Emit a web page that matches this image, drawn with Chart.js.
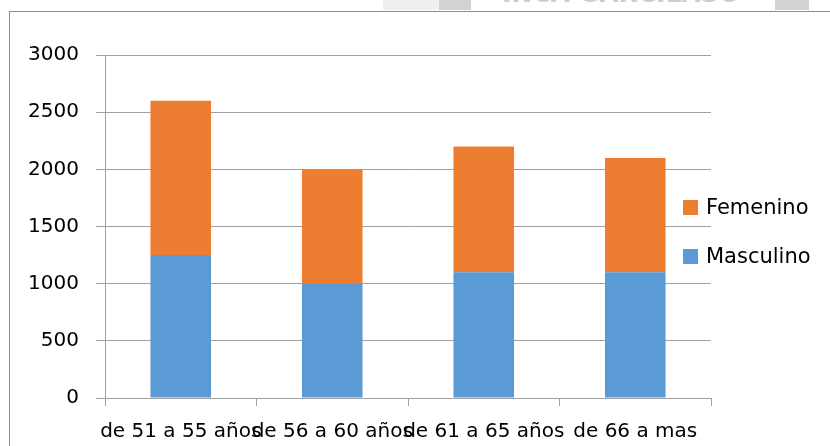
<!DOCTYPE html>
<html>
<head>
<meta charset="utf-8">
<script src="https://cdn.jsdelivr.net/npm/chart.js@4.4.1/dist/chart.umd.min.js"></script>
<style>
  html, body { margin: 0; padding: 0; background: #fff; overflow: hidden; }
  #wrap { position: relative; width: 830px; height: 446px; overflow: hidden; font-family: "DejaVu Sans", sans-serif; }
  .line { position: absolute; background: #8c8c8c; }
  .wm { position: absolute; top: 0; height: 10px; }
  #wmText { position: absolute; left: 502px; top: -21px; font: bold 25px "DejaVu Sans", sans-serif; color: #cdcdcd; white-space: nowrap; }
  #chart { position: absolute; left: 0; top: 0; }
  .leg { position: absolute; left: 683px; font-size: 21px; color: #000; white-space: nowrap; line-height: 24px; }
  .leg span { display: inline-block; width: 15px; height: 15px; margin-right: 8px; vertical-align: -1px; }
</style>
</head>
<body>
<div id="wrap">
  <div class="wm" style="left:383px;width:56px;background:#efefef;"></div>
  <div class="wm" style="left:439px;width:32px;background:#d2d2d2;"></div>
  <div class="wm" style="left:775px;width:34px;background:#d2d2d2;"></div>
  <div id="wmText">INCA GARCILASO</div>
  <div class="line" style="left:9px;top:11px;width:821px;height:1px;"></div>
  <div class="line" style="left:9px;top:11px;width:1px;height:435px;"></div>
  <canvas id="chart" width="830" height="446"></canvas>
  <div id="legend"></div>
</div>
<script>
const categories = ['de 51 a 55 años', 'de 56 a 60 años', 'de 61 a 65 años', 'de 66 a mas'];
const masculino = [1250, 1000, 1100, 1100];
const femenino = [1350, 1000, 1100, 1000];
const yTicks = [0, 500, 1000, 1500, 2000, 2500, 3000];

const BLUE = '#5b9bd5';
const ORANGE = '#ed7d31';
const GRID = '#a0a0a0';

const datasets = [
    { label: 'Masculino', data: masculino, backgroundColor: BLUE },
    { label: 'Femenino', data: femenino, backgroundColor: ORANGE }
];

const ctx = document.getElementById('chart').getContext('2d');

const chart = new Chart(ctx, {
    type: 'bar',
    data: { labels: categories, datasets: datasets },
    options: {
        responsive: false,
        animation: false,
        layout: { padding: { top: 55, right: 119, left: 0, bottom: 0 } },
        datasets: {
            bar: { categoryPercentage: 1.0, barPercentage: 0.4 }
        },
        plugins: {
            legend: { display: false },
            tooltip: { enabled: false }
        },
        scales: {
            x: {
                stacked: true,
                afterFit: s => { s.height = 48; },
                grid: {
                    display: true,
                    drawOnChartArea: false,
                    drawTicks: true,
                    tickLength: 8,
                    color: GRID,
                    offset: true
                },
                border: { display: false },
                ticks: {
                    color: '#000',
                    autoSkip: false,
                    maxRotation: 0,
                    minRotation: 0,
                    padding: 14,
                    font: { family: 'DejaVu Sans', size: 20 }
                }
            },
            y: {
                stacked: true,
                min: 0,
                max: 3000,
                afterFit: s => { s.width = 105; },
                afterBuildTicks: s => { s.ticks = yTicks.map(v => ({ value: v })); },
                grid: {
                    color: GRID,
                    tickLength: 9,
                    drawTicks: true
                },
                border: { display: true, color: GRID },
                ticks: {
                    color: '#000',
                    padding: 17,
                    callback: v => String(v),
                    font: { family: 'DejaVu Sans', size: 20 }
                }
            }
        }
    }
});

// legend sits inside the right part of the plot, drawn as html
const legend = document.getElementById('legend');
const legendTop = { Femenino: 195, Masculino: 244 };
datasets.slice().reverse().forEach(ds => {
    const item = document.createElement('div');
    item.className = 'leg';
    item.style.top = legendTop[ds.label] + 'px';
    item.innerHTML = '<span style="background:' + ds.backgroundColor + '"></span>' + ds.label;
    legend.appendChild(item);
});
</script>
</body>
</html>
